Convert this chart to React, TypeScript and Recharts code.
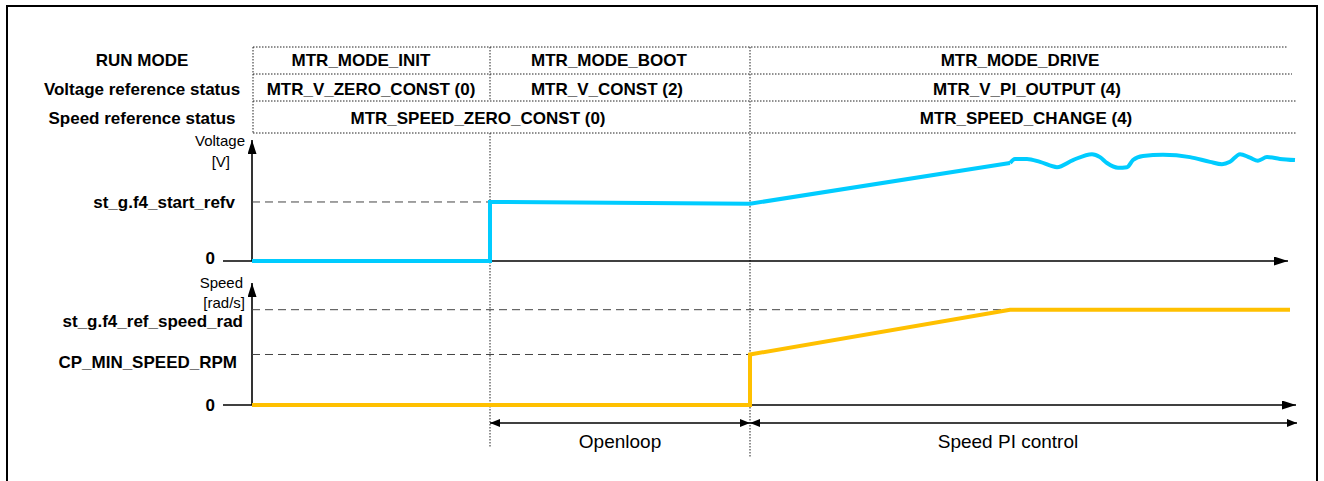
import { LineChart, Line, XAxis, YAxis, ReferenceLine } from "recharts";

// time in ms
const phaseTimes = [0, 238, 498, 1040];
const rowLabels = ["RUN MODE", "Voltage reference status", "Speed reference status"];
const runModes = ["MTR_MODE_INIT", "MTR_MODE_BOOT", "MTR_MODE_DRIVE"];
const voltageStates = ["MTR_V_ZERO_CONST (0)", "MTR_V_CONST (2)", "MTR_V_PI_OUTPUT (4)"];
const speedStates = ["MTR_SPEED_ZERO_CONST (0)", "MTR_SPEED_CHANGE (4)"];
const phaseNames = ["Openloop", "Speed PI control"];

const startRefV = 1.0;
const refSpeed = 100;
const minSpeed = 53;

const voltageTicks = [0, startRefV];
const voltageTickLabels = ["0", "st_g.f4_start_refv"];
const speedTicks = [0, minSpeed, refSpeed];
const speedTickLabels = ["0", "CP_MIN_SPEED_RPM", "st_g.f4_ref_speed_rad"];

const voltageRamp = [
  { t: 0, v: 0 },
  { t: 238, v: 0 },
  { t: 238, v: 1.0 },
  { t: 498, v: 0.97 },
  { t: 758, v: 1.66 },
];
const voltageRipple = [
  { t: 758, v: 1.66 },
  { t: 763, v: 1.73 },
  { t: 775, v: 1.73 },
  { t: 788, v: 1.68 },
  { t: 805, v: 1.59 },
  { t: 821, v: 1.71 },
  { t: 840, v: 1.81 },
  { t: 848, v: 1.76 },
  { t: 855, v: 1.66 },
  { t: 866, v: 1.58 },
  { t: 875, v: 1.59 },
  { t: 881, v: 1.71 },
  { t: 891, v: 1.78 },
  { t: 911, v: 1.8 },
  { t: 938, v: 1.76 },
  { t: 958, v: 1.68 },
  { t: 970, v: 1.64 },
  { t: 978, v: 1.68 },
  { t: 988, v: 1.81 },
  { t: 998, v: 1.75 },
  { t: 1006, v: 1.7 },
  { t: 1015, v: 1.76 },
  { t: 1028, v: 1.73 },
  { t: 1043, v: 1.71 },
];
const speedRamp = [
  { t: 0, s: 0 },
  { t: 498, s: 0 },
  { t: 498, s: minSpeed },
  { t: 758, s: refSpeed },
  { t: 1038, s: refSpeed },
];

// layout
const W = 1324;
const H = 481;
const Y_AXIS_W = 252;
const RIGHT = 22;
const T_MAX = 1050;
const PLOT_L = Y_AXIS_W;
const PLOT_R = W - RIGHT;
const xPx = (t: number) => PLOT_L + (t * (PLOT_R - PLOT_L)) / T_MAX;

const V_TOP = 140;
const V_BOTTOM = 261;
const S_TOP = 283;
const S_BOTTOM = 405;
const PAD_TOP = 10;
const PAD_BOTTOM = 16;

const FONT = "'Liberation Sans', Arial, sans-serif";
const CYAN = "#00CCFF";
const ORANGE = "#FFC000";
const DASH_GREY = "#444";

const voltageTickRight = [215, 235];
const voltageTickDy = [-3, 1];
const speedTickRight = [215, 237, 243];
const speedTickDy = [0, 8, 12];

function makeTick(ticks: number[], labels: string[], right: number[], dy: number[]) {
  return (props: any) => {
    const i = ticks.indexOf(Number(props.payload.value));
    if (i < 0) return <g />;
    return (
      <text
        x={right[i]}
        y={props.y + dy[i]}
        textAnchor="end"
        dominantBaseline="central"
        fontFamily={FONT}
        fontWeight="bold"
        fontSize={17}
        fill="#000"
      >
        {labels[i]}
      </text>
    );
  };
}

function Overlay() {
  const b1 = xPx(phaseTimes[1]);
  const b2 = xPx(phaseTimes[2]);
  const rows = [47, 74, 101, 133];
  const rowEnds = [1288, 1292, 1296, 1297];
  const rowMid = [60, 89, 118];
  const txt = {
    fontFamily: FONT,
    fontWeight: "bold" as const,
    fontSize: 17,
    textAnchor: "middle" as const,
    dominantBaseline: "central" as const,
  };
  const small = { fontFamily: FONT, fontSize: 15, textAnchor: "end" as const, dominantBaseline: "central" as const };
  const dot = { stroke: "#222", strokeWidth: 1, strokeDasharray: "1.5 1.5" };
  return (
    <svg width={W} height={H} style={{ position: "absolute", left: 0, top: 0 }}>
      <defs>
        <marker id="big" viewBox="0 0 14 9" refX={14} refY={4.5} markerWidth={14} markerHeight={9} orient="auto-start-reverse" markerUnits="userSpaceOnUse">
          <path d="M0,0 L14,4.5 L0,9 z" fill="#000" />
        </marker>
        <marker id="small" viewBox="0 0 10 8" refX={10} refY={4} markerWidth={10} markerHeight={8} orient="auto-start-reverse" markerUnits="userSpaceOnUse">
          <path d="M0,0 L10,4 L0,8 z" fill="#000" />
        </marker>
      </defs>

      {/* status table */}
      {rows.map((y, i) => (
        <line key={y} x1={PLOT_L + 1} x2={rowEnds[i]} y1={y} y2={y} {...dot} />
      ))}
      <line x1={PLOT_L + 1} x2={PLOT_L + 1} y1={rows[0]} y2={rows[3]} {...dot} />
      <line x1={b1} x2={b1} y1={rows[0]} y2={rows[2]} {...dot} />
      <line x1={b1} x2={b1} y1={rows[3]} y2={447} {...dot} />
      <line x1={b2} x2={b2} y1={rows[0]} y2={458} {...dot} />

      {rowLabels.map((l, i) => (
        <text key={l} x={142} y={rowMid[i]} {...txt}>{l}</text>
      ))}
      <text x={361} y={rowMid[0]} {...txt}>{runModes[0]}</text>
      <text x={609} y={rowMid[0]} {...txt}>{runModes[1]}</text>
      <text x={1020} y={rowMid[0]} {...txt}>{runModes[2]}</text>
      <text x={371} y={rowMid[1]} {...txt}>{voltageStates[0]}</text>
      <text x={607} y={rowMid[1]} {...txt}>{voltageStates[1]}</text>
      <text x={1027} y={rowMid[1]} {...txt}>{voltageStates[2]}</text>
      <text x={478} y={rowMid[2]} {...txt}>{speedStates[0]}</text>
      <text x={1026} y={rowMid[2]} {...txt}>{speedStates[1]}</text>

      {/* voltage axes */}
      <line x1={PLOT_L} x2={PLOT_L} y1={V_BOTTOM} y2={V_TOP} stroke="#000" strokeWidth={1.6} markerEnd="url(#big)" />
      <line x1={223} x2={1288} y1={V_BOTTOM} y2={V_BOTTOM} stroke="#000" strokeWidth={1.6} markerEnd="url(#big)" />
      <text x={245} y={140} {...small}>Voltage</text>
      <text x={230} y={161} {...small}>[V]</text>

      {/* speed axes */}
      <line x1={PLOT_L} x2={PLOT_L} y1={S_BOTTOM} y2={S_TOP} stroke="#000" strokeWidth={1.6} markerEnd="url(#big)" />
      <line x1={223} x2={1296} y1={S_BOTTOM} y2={S_BOTTOM} stroke="#000" strokeWidth={1.6} markerEnd="url(#big)" />
      <text x={243} y={282} {...small}>Speed</text>
      <text x={245} y={302} {...small}>[rad/s]</text>

      {/* phase spans */}
      <line x1={b1} x2={b2} y1={423} y2={423} stroke="#000" strokeWidth={1.4} markerStart="url(#small)" markerEnd="url(#small)" />
      <line x1={b2} x2={1297} y1={423} y2={423} stroke="#000" strokeWidth={1.4} markerStart="url(#small)" markerEnd="url(#small)" />
      <text x={(b1 + b2) / 2} y={441} fontFamily={FONT} fontSize={19} textAnchor="middle" dominantBaseline="central">{phaseNames[0]}</text>
      <text x={1008} y={441} fontFamily={FONT} fontSize={19} textAnchor="middle" dominantBaseline="central">{phaseNames[1]}</text>
    </svg>
  );
}

export default function App() {
  const margin = { top: PAD_TOP, right: RIGHT, bottom: PAD_BOTTOM, left: 0 };
  return (
    <div style={{ position: "absolute", left: 0, top: 0, width: W, height: H, background: "#fff", overflow: "hidden" }}>
      <div style={{ position: "absolute", left: 6, top: 5, width: 1312, height: 540, border: "2px solid #000", boxSizing: "border-box" }} />
      <Overlay />

      <div style={{ position: "absolute", left: 0, top: V_TOP - PAD_TOP }}>
        <LineChart width={W} height={V_BOTTOM - V_TOP + PAD_TOP + PAD_BOTTOM} margin={margin}>
          <XAxis type="number" dataKey="t" domain={[0, T_MAX]} hide allowDuplicatedCategory={false} />
          <YAxis
            width={Y_AXIS_W}
            domain={[0, 2.05]}
            ticks={voltageTicks}
            interval={0}
            axisLine={false}
            tickLine={false}
            tick={makeTick(voltageTicks, voltageTickLabels, voltageTickRight, voltageTickDy)}
          />
          <ReferenceLine segment={[{ x: 0, y: startRefV }, { x: phaseTimes[1], y: startRefV }]} stroke={DASH_GREY} strokeDasharray="8 5" />
          <Line data={voltageRamp} dataKey="v" type="linear" stroke={CYAN} strokeWidth={4} dot={false} isAnimationActive={false} />
          <Line data={voltageRipple} dataKey="v" type="monotone" stroke={CYAN} strokeWidth={4} dot={false} isAnimationActive={false} />
        </LineChart>
      </div>

      <div style={{ position: "absolute", left: 0, top: S_TOP - PAD_TOP }}>
        <LineChart width={W} height={S_BOTTOM - S_TOP + PAD_TOP + PAD_BOTTOM} margin={margin}>
          <XAxis type="number" dataKey="t" domain={[0, T_MAX]} hide allowDuplicatedCategory={false} />
          <YAxis
            width={Y_AXIS_W}
            domain={[0, 128]}
            ticks={speedTicks}
            interval={0}
            axisLine={false}
            tickLine={false}
            tick={makeTick(speedTicks, speedTickLabels, speedTickRight, speedTickDy)}
          />
          <ReferenceLine segment={[{ x: 0, y: refSpeed }, { x: 758, y: refSpeed }]} stroke={DASH_GREY} strokeDasharray="8 5" />
          <ReferenceLine segment={[{ x: 0, y: minSpeed }, { x: phaseTimes[2], y: minSpeed }]} stroke={DASH_GREY} strokeDasharray="8 5" />
          <Line data={speedRamp} dataKey="s" type="linear" stroke={ORANGE} strokeWidth={4} dot={false} isAnimationActive={false} />
        </LineChart>
      </div>
    </div>
  );
}
